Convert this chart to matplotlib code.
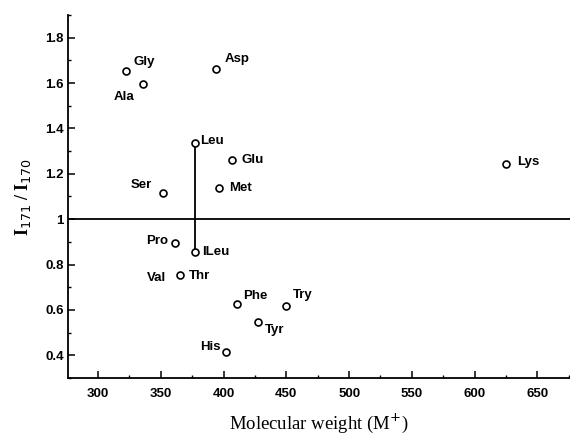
import matplotlib
matplotlib.use('Agg')
import matplotlib.pyplot as plt
from matplotlib.ticker import MultipleLocator, FuncFormatter

# amino acids, molecular weight and I171/I170 ratio
names = ['Gly', 'Ala', 'Asp', 'Leu', 'Glu', 'Met', 'Ser', 'Lys', 'Pro',
         'ILeu', 'Val', 'Phe', 'Tyr', 'His', 'Try']
weights = [322, 336, 394, 377, 407, 396, 352, 625, 361,
           377, 365, 411, 427, 402, 450]
ratios = [1.655, 1.594, 1.66, 1.336, 1.26, 1.138, 1.116, 1.244, 0.895,
          0.855, 0.755, 0.626, 0.549, 0.416, 0.618]

# label offsets in pixels (dx, dy down)
offsets = {'Gly': (19, -9), 'Ala': (-19, 13), 'Asp': (21, -10), 'Leu': (17, -2),
           'Glu': (20, 0), 'Met': (22, 0), 'Ser': (-22, -8), 'Lys': (22, -2),
           'Pro': (-18, -2), 'ILeu': (21, 0), 'Val': (-23, 3), 'Phe': (18, -8),
           'Tyr': (17, 8), 'His': (-16, -5), 'Try': (16, -11)}

fig = plt.figure(figsize=(5.7, 4.34), dpi=100)
ax = fig.add_axes([68 / 570, 56 / 434, 502 / 570, 363 / 434])

ax.plot(weights, ratios, 'o', mfc='white', mec='black', ms=5, mew=1.2, zorder=3)
ax.axhline(1.0, color='black', lw=1.3)
ax.plot([weights[3], weights[9]], [ratios[3], ratios[9]], color='black', lw=1.3)

lab_font = dict(family='Liberation Sans', weight='bold', size=9.5)
for n, x, y in zip(names, weights, ratios):
    dx, dy = offsets[n]
    ax.annotate(n, (x, y), xytext=(dx * 0.72, -dy * 0.72), textcoords='offset points',
                ha='center', va='center', **lab_font)
# Thr shares the point with Val
ax.annotate('Thr', (weights[10], ratios[10]), xytext=(20 * 0.72, -1 * 0.72),
            textcoords='offset points', ha='center', va='center', **lab_font)

ax.set_xlim(276, 676)
ax.set_ylim(0.3, 1.9)
ax.xaxis.set_major_locator(MultipleLocator(50))
ax.xaxis.set_minor_locator(MultipleLocator(25))
ax.yaxis.set_major_locator(MultipleLocator(0.2))
ax.yaxis.set_minor_locator(MultipleLocator(0.1))
ax.yaxis.set_major_formatter(FuncFormatter(lambda v, p: '%g' % round(v, 1)))
ax.set_yticks([0.4, 0.6, 0.8, 1.0, 1.2, 1.4, 1.6, 1.8])

ax.spines['top'].set_visible(False)
ax.spines['right'].set_visible(False)
ax.spines['left'].set_linewidth(1.3)
ax.spines['bottom'].set_linewidth(1.3)
ax.tick_params(which='major', direction='in', length=5, width=1.1)
ax.tick_params(axis='x', which='major', pad=7)
ax.tick_params(axis='y', which='major', pad=3)
ax.tick_params(which='minor', direction='in', length=2.5, width=1)
for lab in ax.get_xticklabels() + ax.get_yticklabels():
    lab.set_family('Liberation Sans')
    lab.set_weight('bold')
    lab.set_size(9.5)

ax.set_xlabel('Molecular weight (M$^{+}$)', family='Liberation Serif',
              size=13.5, labelpad=9)
ax.set_ylabel('I$_{171}$ / I$_{170}$', family='Liberation Serif', size=13,
              weight='bold', labelpad=9)

fig.savefig('out.png', dpi=100)
